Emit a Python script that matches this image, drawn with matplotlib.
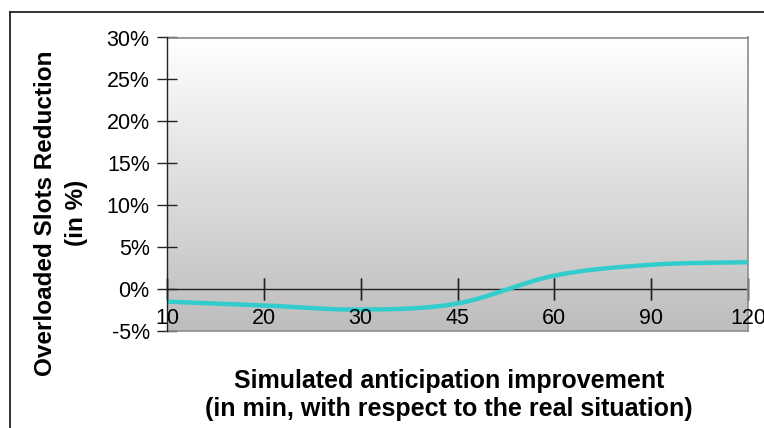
import numpy as np
import matplotlib
matplotlib.use("Agg")
import matplotlib.pyplot as plt
from matplotlib.lines import Line2D
from matplotlib.colors import LinearSegmentedColormap

plt.rcParams['font.family'] = ['Liberation Sans', 'DejaVu Sans']

# ---- data ----
categories = ['10', '20', '30', '45', '60', '90', '120']
reduction = [-1.5, -1.95, -2.45, -1.72, 1.6, 2.9, 3.2]   # in %
y_ticks = [-5, 0, 5, 10, 15, 20, 25, 30]
y_tick_labels = ['-5%', '0%', '5%', '10%', '15%', '20%', '25%', '30%']
x_title = "Simulated anticipation improvement\n(in min, with respect to the real situation)"
y_title = "Overloaded Slots Reduction\n(in %)"

W, H = 764, 428
fig = plt.figure(figsize=(W / 100, H / 100), dpi=100)
ax = fig.add_axes([167 / W, 1 - 331 / H, (748 - 167) / W, (331 - 37.5) / H])

n = len(categories)
# gradient background: white at top, gray at bottom
cmap = LinearSegmentedColormap.from_list('g', ['#ffffff', '#bdbdbd'])
grad = np.linspace(0, 1, 256).reshape(-1, 1)
ax.imshow(grad, cmap=cmap, aspect='auto', extent=[0, n - 1, -5, 30],
          zorder=0, origin='upper', interpolation='bilinear')
ax.set_xlim(0, n - 1)
ax.set_ylim(-5, 30)


# smoothed line (bezier through the points, Excel-style smoothing)
def smooth(xs, ys, m=40):
    xs = np.asarray(xs, float)
    ys = np.asarray(ys, float)
    px = np.concatenate([[xs[0]], xs, [xs[-1]]])
    py = np.concatenate([[ys[0]], ys, [ys[-1]]])
    outx, outy = [], []
    t = np.linspace(0, 1, m)
    for i in range(1, len(px) - 2):
        p0 = np.array([px[i], py[i]])
        p3 = np.array([px[i + 1], py[i + 1]])
        p1 = p0 + (np.array([px[i + 1], py[i + 1]]) - np.array([px[i - 1], py[i - 1]])) / 6
        p2 = p3 - (np.array([px[i + 2], py[i + 2]]) - np.array([px[i], py[i]])) / 6
        b = ((1 - t) ** 3)[:, None] * p0 + (3 * (1 - t) ** 2 * t)[:, None] * p1 + \
            (3 * (1 - t) * t ** 2)[:, None] * p2 + (t ** 3)[:, None] * p3
        outx.extend(b[:, 0])
        outy.extend(b[:, 1])
    return np.array(outx), np.array(outy)


xpos = np.arange(n)
sx, sy = smooth(xpos, reduction)
ax.plot(sx, sy, color='#33cccc', lw=3.2, solid_capstyle='butt', zorder=3, clip_on=False)

# spines
for s in ['top', 'right']:
    ax.spines[s].set_color('#8c8c8c')
    ax.spines[s].set_linewidth(1.2)
ax.spines['bottom'].set_visible(False)
ax.plot([0, n - 1], [-5, -5], color='#8c8c8c', lw=1.2, zorder=2, clip_on=False)
ax.spines['left'].set_color('#222222')
ax.spines['left'].set_linewidth(1.0)
ax.spines['left'].set_zorder(4)

# x axis at y=0
ax.axhline(0, color='#222222', lw=1.0, zorder=2)
for xp in xpos:
    ax.plot([xp, xp], [0, 0], marker='|', markersize=16, mew=1.0, color='#222222', zorder=2, clip_on=False)
ax.set_xticks([])
for xp, lab in zip(xpos, categories):
    ax.text(xp, -3.5, lab, ha='center', va='center', fontsize=15.5, color='#000000', zorder=5)

ax.set_yticks(y_ticks)
ax.set_yticklabels(y_tick_labels, fontsize=15.5)
ax.tick_params(axis='y', direction='inout', length=15, width=1.0, color='#222222', pad=5)

fig.text(61 / W, 1 - 213 / H, y_title, rotation=90, ha='center', va='center',
         fontsize=17.5, fontweight='bold', linespacing=1.45)
fig.text(449 / W, 1 - 395 / H, x_title, ha='center', va='center',
         fontsize=18, fontweight='bold', linespacing=1.2)

# figure border (top and left)
fig.add_artist(Line2D([10 / W, 1], [1 - 12 / H, 1 - 12 / H], color='#222222', lw=1.3, transform=fig.transFigure))
fig.add_artist(Line2D([10 / W, 10 / W], [0, 1 - 12 / H], color='#222222', lw=1.3, transform=fig.transFigure))

fig.savefig('out.png', dpi=100)
